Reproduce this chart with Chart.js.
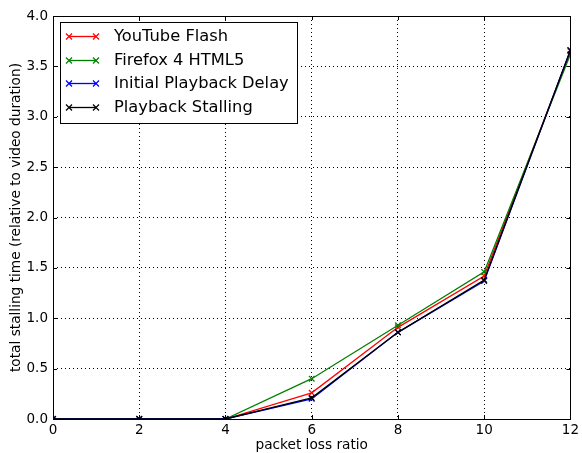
<!DOCTYPE html>
<html><head><meta charset="utf-8">
<script src="https://cdn.jsdelivr.net/npm/chart.js@4/dist/chart.umd.min.js"></script>
<style>html,body{margin:0;padding:0;background:#fff}#wrap{width:582px;height:453px}</style>
</head><body><div id="wrap"><canvas id="c" width="582" height="453"></canvas></div>
<script>
const lossRatio = [0, 2, 4, 6, 8, 10, 12];
const youtubeFlash = [0, 0, 0, 0.26, 0.91, 1.42, 3.65];
const firefoxHtml5 = [0, 0, 0, 0.40, 0.93, 1.46, 3.62];
const initialDelay = [0, 0, 0, 0.20, 0.86, 1.37, 3.66];
const playbackStalling = [0, 0, 0, 0.21, 0.86, 1.38, 3.66];
const seriesNames = ['YouTube Flash', 'Firefox 4 HTML5', 'Initial Playback Delay', 'Playback Stalling'];
const seriesColors = ['#ff0000', '#008000', '#0000ff', '#000000'];
const seriesValues = [youtubeFlash, firefoxHtml5, initialDelay, playbackStalling];

const FONT = 'DejaVu Sans';

const datasets = seriesValues.map((vals, i) => ({
  label: seriesNames[i],
  data: lossRatio.map((x, j) => ({x: x, y: vals[j]})),
  borderColor: seriesColors[i],
  backgroundColor: seriesColors[i],
  borderWidth: 1.3,
  pointStyle: 'crossRot',
  pointRadius: 4,
  pointBorderWidth: 1.2,
  tension: 0,
  order: 4 - i
}));

const framePlugin = {
  id: 'frame',
  afterDatasetsDraw(chart) {
    const {ctx, chartArea: a, scales} = chart;
    ctx.save();
    ctx.strokeStyle = '#000';
    ctx.lineWidth = 1;
    const tl = 4;
    scales.x.ticks.forEach(t => {
      const px = Math.round(scales.x.getPixelForValue(t.value)) + 0.5;
      ctx.beginPath();
      ctx.moveTo(px, a.bottom); ctx.lineTo(px, a.bottom - tl);
      ctx.moveTo(px, a.top); ctx.lineTo(px, a.top + tl);
      ctx.stroke();
    });
    scales.y.ticks.forEach(t => {
      const py = Math.round(scales.y.getPixelForValue(t.value)) + 0.5;
      ctx.beginPath();
      ctx.moveTo(a.left, py); ctx.lineTo(a.left + tl, py);
      ctx.moveTo(a.right, py); ctx.lineTo(a.right - tl, py);
      ctx.stroke();
    });
    ctx.strokeRect(Math.round(a.left) + 0.5, Math.round(a.top) + 0.5, Math.round(a.right - a.left), Math.round(a.bottom - a.top));
    // legend
    const bx = 60.5, by = 22.5, bw = 237, bh = 101;
    ctx.fillStyle = '#fff';
    ctx.fillRect(bx, by, bw, bh);
    ctx.strokeRect(bx, by, bw, bh);
    const rows = [36, 60, 83, 107];
    ctx.font = '16.3px "' + FONT + '"';
    ctx.textBaseline = 'middle';
    seriesNames.forEach((n, i) => {
      const y = rows[i] + 0.5;
      ctx.strokeStyle = seriesColors[i];
      ctx.lineWidth = 1.3;
      ctx.beginPath(); ctx.moveTo(69, y); ctx.lineTo(96, y); ctx.stroke();
      ctx.lineWidth = 1.2;
      [69, 96].forEach(cx => {
        const r = 3;
        ctx.beginPath();
        ctx.moveTo(cx - r, y - r); ctx.lineTo(cx + r, y + r);
        ctx.moveTo(cx - r, y + r); ctx.lineTo(cx + r, y - r);
        ctx.stroke();
      });
      ctx.fillStyle = '#000';
      ctx.fillText(n, 114, y);
    });
    ctx.restore();
  }
};

new Chart(document.getElementById('c'), {
  type: 'line',
  data: {datasets},
  options: {
    responsive: false,
    animation: false,
    devicePixelRatio: 1,
    layout: {padding: {left: 0, right: 10, top: 16, bottom: 0}},
    plugins: {legend: {display: false}, tooltip: {enabled: false}},
    scales: {
      x: {
        type: 'linear', min: 0, max: 12,
        ticks: {stepSize: 2, color: '#000', font: {family: FONT, size: 13.5}, padding: 3, maxRotation: 0},
        grid: {color: '#000', lineWidth: 1, drawTicks: false, tickLength: 0},
        border: {display: false, dash: [1, 3]},
        title: {display: true, text: 'packet loss ratio', color: '#000', font: {family: FONT, size: 13.7}, padding: {top: 0, bottom: -1}},
        afterFit(s) { s.height = 34; }
      },
      y: {
        type: 'linear', min: 0, max: 4,
        ticks: {stepSize: 0.5, color: '#000', font: {family: FONT, size: 13.5}, padding: 5, callback: v => v.toFixed(1)},
        grid: {color: '#000', lineWidth: 1, drawTicks: false, tickLength: 0},
        border: {display: false, dash: [1, 3]},
        title: {display: true, text: 'total stalling time (relative to video duration)', color: '#000', font: {family: FONT, size: 13.7}, padding: {top: 8, bottom: 4}},
        afterFit(s) { s.width = 53; }
      }
    }
  },
  plugins: [framePlugin]
});
</script></body></html>
